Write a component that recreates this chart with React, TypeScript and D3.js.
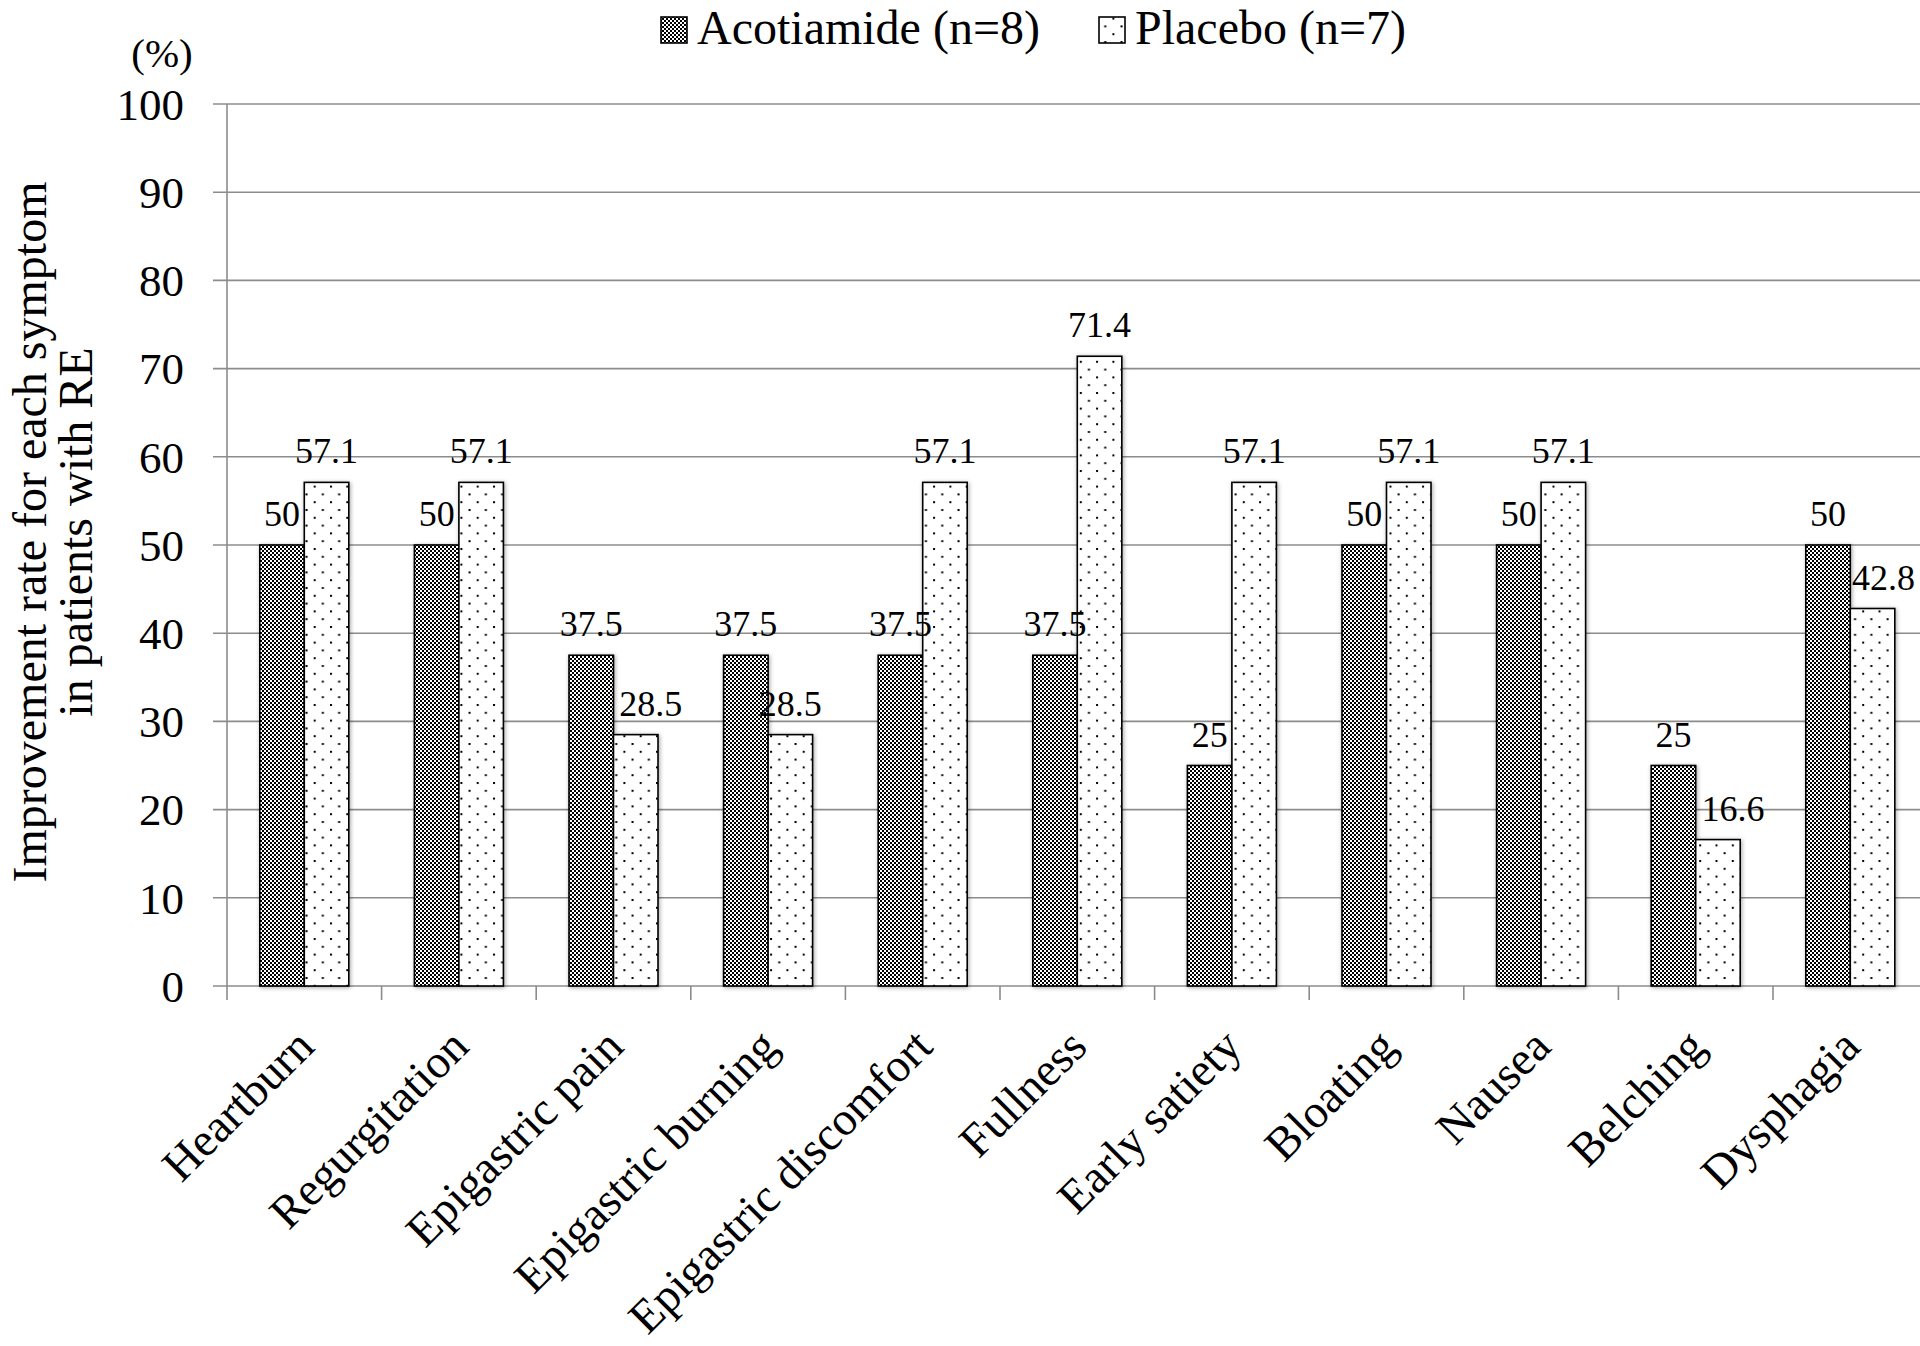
import React from "react";
import * as d3 from "d3";

// Improvement rate (%) for each symptom in patients with RE
const categories = [
  "Heartburn",
  "Regurgitation",
  "Epigastric pain",
  "Epigastric burning",
  "Epigastric discomfort",
  "Fullness",
  "Early satiety",
  "Bloating",
  "Nausea",
  "Belching",
  "Dysphagia",
];
const acotiamide = [50, 50, 37.5, 37.5, 37.5, 37.5, 25, 50, 50, 25, 50];
const placebo = [57.1, 57.1, 28.5, 28.5, 57.1, 71.4, 57.1, 57.1, 57.1, 16.6, 42.8];
const yTicks = [0, 10, 20, 30, 40, 50, 60, 70, 80, 90, 100];
const seriesNames = ["Acotiamide (n=8)", "Placebo (n=7)"];

// A few placebo value labels sit slightly to the right of their bar
const placeboLabelShift: Record<string, number> = {
  "Epigastric pain": 15,
  Belching: 15,
  Dysphagia: 11,
};

const W = 1920;
const H = 1346;
const FONT = "'Liberation Serif', 'Times New Roman', Times, serif";

const plotLeft = 227;
const step = 154.6;
const plotRight = plotLeft + step * categories.length;
const plotTop = 104;
const plotBottom = 986;

export default function App() {
  const x = d3
    .scaleBand<string>()
    .domain(categories)
    .range([plotLeft, plotRight])
    .paddingInner(0)
    .paddingOuter(0);
  const barW = 44.5;
  const y = d3.scaleLinear().domain([0, 100]).range([plotBottom, plotTop]);

  const grid = "#8c8c8c";

  return (
    <svg
      width={W}
      height={H}
      style={{ position: "absolute", left: 0, top: 0, background: "#fff" }}
      fontFamily={FONT}
    >
      <defs>
        <pattern id="checker" width={4} height={4} patternUnits="userSpaceOnUse">
          <rect width={4} height={4} fill="#fff" />
          <rect x={0} y={0} width={2} height={2} fill="#000" />
          <rect x={2} y={2} width={2} height={2} fill="#000" />
        </pattern>
        <pattern id="dots" width={16.3} height={15.6} patternUnits="userSpaceOnUse" x={4} y={2}>
          <rect width={16.3} height={15.6} fill="#fff" />
          <rect x={0} y={0} width={2} height={2} fill="#000" />
          <rect x={8.15} y={7.8} width={2} height={2} fill="#000" />
        </pattern>
        <filter id="shadow" x="-30%" y="-5%" width="160%" height="110%">
          <feDropShadow dx={1} dy={1} stdDeviation={2.2} floodColor="#000" floodOpacity={0.35} />
        </filter>
      </defs>

      {/* horizontal gridlines with outward tick marks */}
      {yTicks.map((t) => (
        <line
          key={"g" + t}
          x1={plotLeft - 14}
          x2={plotRight}
          y1={y(t)}
          y2={y(t)}
          stroke={grid}
          strokeWidth={1.6}
        />
      ))}
      {/* y axis */}
      <line x1={plotLeft} x2={plotLeft} y1={plotTop} y2={plotBottom + 14} stroke={grid} strokeWidth={1.6} />
      {/* category ticks */}
      {categories.map((c, i) => (
        <line
          key={"ct" + i}
          x1={(x(c) as number) + x.bandwidth()}
          x2={(x(c) as number) + x.bandwidth()}
          y1={plotBottom}
          y2={plotBottom + 14}
          stroke={grid}
          strokeWidth={1.6}
        />
      ))}

      {/* y tick labels */}
      {yTicks.map((t) => (
        <text
          key={"yl" + t}
          x={184}
          y={y(t)}
          dy="0.35em"
          textAnchor="end"
          fontSize={45}
          fontFamily={FONT}
          fill="#000"
        >
          {t}
        </text>
      ))}
      <text x={162} y={67} textAnchor="middle" fontSize={41} fontFamily={FONT} fill="#000">
        (%)
      </text>

      {/* y axis title */}
      <g transform={`translate(46, 532) rotate(-90)`} fontFamily={FONT}>
        <text textAnchor="middle" fontSize={48} fill="#000">
          Improvement rate for each symptom
        </text>
        <text y={46} textAnchor="middle" fontSize={48} fill="#000">
          in patients with RE
        </text>
      </g>

      {/* bars */}
      {categories.map((c, i) => {
        const cx = (x(c) as number) + x.bandwidth() / 2;
        return (
          <g key={"b" + i} filter="url(#shadow)">
            <rect
              x={cx - barW}
              y={y(acotiamide[i])}
              width={barW}
              height={y(0) - y(acotiamide[i])}
              fill="url(#checker)"
              stroke="#000"
              strokeWidth={1.6}
            />
            <rect
              x={cx}
              y={y(placebo[i])}
              width={barW}
              height={y(0) - y(placebo[i])}
              fill="url(#dots)"
              stroke="#000"
              strokeWidth={1.6}
            />
          </g>
        );
      })}

      {/* value labels */}
      {categories.map((c, i) => {
        const cx = (x(c) as number) + x.bandwidth() / 2;
        return (
          <g key={"v" + i} fontSize={36} fontFamily={FONT} fill="#000" textAnchor="middle">
            <text x={cx - barW / 2} y={y(acotiamide[i]) - 19}>
              {acotiamide[i]}
            </text>
            <text x={cx + barW / 2 + (placeboLabelShift[c] || 0)} y={y(placebo[i]) - 19}>
              {placebo[i].toFixed(1)}
            </text>
          </g>
        );
      })}

      {/* category labels */}
      {categories.map((c, i) => {
        const cx = (x(c) as number) + x.bandwidth() / 2;
        return (
          <text
            key={"cl" + i}
            transform={`translate(${cx + 12}, 1049) rotate(-45)`}
            textAnchor="end"
            fontSize={47}
            fontFamily={FONT}
            fill="#000"
          >
            {c}
          </text>
        );
      })}

      {/* legend */}
      <g fontFamily={FONT}>
        <rect x={661} y={17} width={26} height={26} fill="url(#checker)" stroke="#000" strokeWidth={1.6} />
        <text x={697} y={44} fontSize={48} fill="#000">
          {seriesNames[0]}
        </text>
        <rect x={1099} y={17} width={26} height={26} fill="url(#dots)" stroke="#000" strokeWidth={1.6} />
        <text x={1135} y={44} fontSize={48} fill="#000">
          {seriesNames[1]}
        </text>
      </g>
    </svg>
  );
}
